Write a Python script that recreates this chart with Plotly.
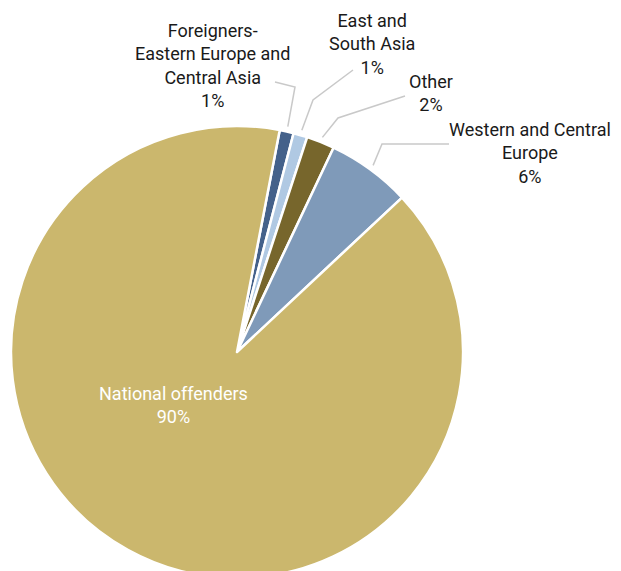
import math
import plotly.graph_objects as go

W, H = 613, 571
PAGE_OFFSET = 8  # default body margin of the html page

labels = [
    "Foreigners-<br>Eastern Europe and<br>Central Asia",
    "East and<br>South Asia",
    "Other",
    "Western and Central<br>Europe",
    "National offenders",
]
values = [1, 1, 2, 6, 90]
colours = ["#44618A", "#B0C9E3", "#77662C", "#7F9AB9", "#CBB76D"]

START_ANGLE = 10.9
# pie centre and radius in screen pixels
CX, CY, R = 237, 352, 226


def paper(sx, sy):
    return (sx - PAGE_OFFSET) / W, 1 - (sy - PAGE_OFFSET) / H


xc, yc = paper(CX, CY)
fig = go.Figure(
    go.Pie(
        labels=labels,
        values=values,
        sort=False,
        direction="clockwise",
        rotation=START_ANGLE,
        marker=dict(colors=colours, line=dict(color="white", width=2.5)),
        textinfo="none",
        hoverinfo="label+percent",
        domain=dict(x=[xc - R / W, xc + R / W], y=[yc - R / H, yc + R / H]),
    )
)

# label text centre, start of leader line, elbow of leader line (screen px)
label_pos = [
    ((213, 65), (275, 82), (295, 87)),
    ((372, 44), (353, 70), (313, 100)),
    ((431, 93), (405, 96), (338, 118)),
    ((530, 153), (449, 144), (382, 144)),
]

total = sum(values)
angle = START_ANGLE
shapes = []
annotations = []
for i, (lab, val) in enumerate(zip(labels, values)):
    pct = round(100 * val / total)
    mid = angle + 180 * val / total
    angle += 360 * val / total
    if i < len(label_pos):
        (tx, ty), (ax, ay), (ex, ey) = label_pos[i]
        # end point just outside the slice edge
        rad = math.radians(mid)
        px = CX + (R + 5) * math.sin(rad)
        py = CY - (R + 5) * math.cos(rad)
        x0, y0 = paper(ax, ay)
        x1, y1 = paper(ex, ey)
        x2, y2 = paper(px, py)
        shapes.append(dict(
            type="path", xref="paper", yref="paper",
            path=f"M {x0} {y0} L {x1} {y1} L {x2} {y2}",
            line=dict(color="#C9C9C9", width=1.5),
        ))
        x, y = paper(tx, ty)
        colour = "#1a1a1a"
    else:
        x, y = paper(173, 405)
        colour = "white"
    annotations.append(dict(
        x=x, y=y, xref="paper", yref="paper", showarrow=False,
        xanchor="center", yanchor="middle",
        text=f"{lab}<br>{pct}%", align="center",
        font=dict(size=18, color=colour),
    ))

fig.update_layout(
    width=W,
    height=H,
    margin=dict(l=0, r=0, t=0, b=0),
    paper_bgcolor="white",
    plot_bgcolor="white",
    showlegend=False,
    font=dict(family="Roboto, Arial, sans-serif"),
    shapes=shapes,
    annotations=annotations,
)

fig.write_html("out.html")
